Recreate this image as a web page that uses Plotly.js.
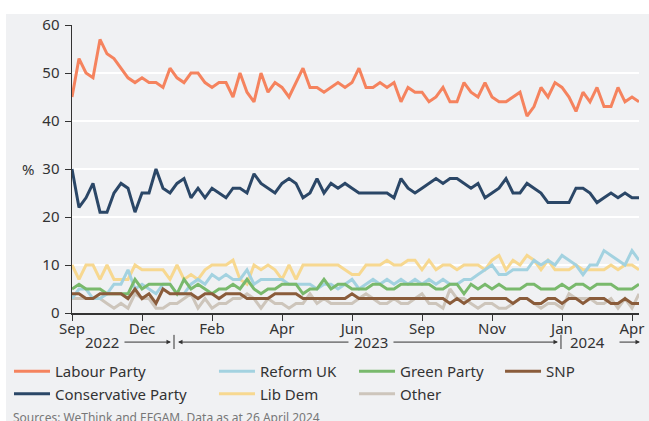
<!DOCTYPE html>
<html>
<head>
<meta charset="utf-8">
<script src="https://cdn.plot.ly/plotly-3.0.1.min.js"></script>
<style>
  html, body { margin: 0; padding: 0; background: #ffffff; }
  #chart { position: absolute; left: 6px; top: 14px; width: 643px; height: 407px; }
</style>
</head>
<body>
<div id="chart"></div>
<script>
// Voting-intention polls (%), one value per poll, Sep 2022 – Apr 2024
const labour = [45,53,50,49,57,54,53,51,49,48, 49,48,48,47,51,49,48,50,50,48,
                47,48,48,45,50,46,44,50,46,48, 47,45,48,51,47,47,46,47,48,47,
                48,51,47,47,48,47,48,44,47,46, 46,44,45,47,44,44,48,46,45,48,
                45,44,44,45,46,41,43,47,45,48, 47,45,42,46,44,47,43,43,47,44,
                45,44];
const conservative = [30,22,24,27,21,21,25,27,26,21, 25,25,30,26,25,27,28,24,26,24,
                      26,25,24,26,26,25,29,27,26,25, 27,28,27,24,25,28,25,27,26,27,
                      26,25,25,25,25,25,24,28,26,25, 26,27,28,27,28,28,27,26,27,24,
                      25,26,28,25,25,27,26,25,23,23, 23,23,26,26,25,23,24,25,24,25,
                      24,24];
const reform = [3,5,5,3,3,4,6,6,9,5, 6,5,4,6,6,4,4,6,7,6,
                8,7,8,7,7,9,6,7,7,7, 7,6,6,6,6,5,6,6,5,6,
                7,5,6,7,6,7,6,7,6,7, 6,7,6,7,6,6,7,7,8,9,
                10,8,8,9,9,9,11,10,11,10, 12,11,10,8,10,10,13,12,11,10,
                13,11];
const libDem = [10,7,10,10,7,10,7,7,7,10, 9,9,9,9,7,10,7,8,7,9,
                10,10,10,11,7,6,10,9,10,9, 7,10,7,10,10,10,10,10,10,9,
                8,8,10,10,10,11,10,10,11,11, 9,11,9,10,10,9,10,10,10,9,
                11,12,9,11,10,12,11,9,11,9, 9,9,10,9,9,9,9,10,9,10,
                10,9];
const green = [5,6,5,5,5,4,4,4,4,7, 5,6,6,6,6,4,7,5,6,5,
               4,5,5,6,5,7,5,4,5,5, 6,6,6,4,5,5,7,5,6,6,
               5,5,5,6,6,5,5,6,6,6, 6,6,5,5,6,6,4,6,5,6,
               5,6,5,5,5,6,6,5,5,5, 6,5,6,6,5,6,6,6,5,5,
               5,6];
const snp = [4,4,3,3,4,4,4,4,3,5, 3,4,2,5,4,4,4,4,3,4,
             4,3,4,4,4,3,3,3,3,4, 4,4,4,3,3,3,3,3,3,3,
             4,3,3,3,3,3,3,3,3,3, 3,3,3,3,2,3,2,3,3,3,
             3,3,3,2,3,3,2,2,3,3, 2,3,3,2,3,3,3,2,2,3,
             2,2];
const other = [3,3,3,3,3,2,1,2,1,4, 3,3,1,1,2,2,3,4,1,3,
               1,2,2,3,3,4,3,1,3,2, 2,1,2,2,4,2,3,2,2,2,
               2,3,4,3,2,2,3,2,2,3, 4,2,2,1,5,3,3,2,1,2,
               2,1,1,2,3,3,2,1,2,2, 1,4,3,3,3,2,2,3,1,3,
               1,4];

// Month labels sit on every tenth poll
const tickPolls  = [0, 10, 20, 30, 40, 50, 60, 70, 80];
const tickLabels = ['Sep', 'Dec', 'Feb', 'Apr', 'Jun', 'Sep', 'Nov', 'Jan', 'Apr'];
const years = ['2022', '2023', '2024'];

const polls = labour.map((_, i) => i);   // poll sequence number along the x axis

const FONT = '"Noto Sans", "Open Sans", sans-serif';
const INK = '#333333';
const BG = '#f0f1f3';

function series(name, values, color, legend, rank) {
  return {
    type: 'scatter', mode: 'lines', name: name,
    x: polls, y: values,
    line: { color: color, width: 3, shape: 'linear' },
    legend: legend, legendrank: rank,
    hoverinfo: 'skip'
  };
}

const traces = [
  series('Other', other, '#cdc5bb', 'legend3', 2),
  series('Lib Dem', libDem, '#f7d890', 'legend2', 2),
  series('Reform UK', reform, '#a3d2e0', 'legend2', 1),
  series('Green Party', green, '#79b96c', 'legend3', 1),
  series('SNP', snp, '#8a5c3b', 'legend4', 1),
  series('Conservative Party', conservative, '#2b4767', 'legend', 2),
  series('Labour Party', labour, '#f5835e', 'legend', 1)
];

// Four legend columns under the plot
function legendAt(x) {
  return {
    orientation: 'v', xref: 'paper', yref: 'container',
    x: x, xanchor: 'left', y: 0.1622, yanchor: 'top',
    bgcolor: 'rgba(0,0,0,0)', borderwidth: 0,
    font: { family: FONT, size: 15, color: INK },
    itemwidth: 36, tracegroupgap: 0, traceorder: 'normal'
  };
}

// Year strip under the month labels: year names with arrows and year boundaries
const yearY = -0.101;
const arrow = (x, ax) => ({
  xref: 'paper', yref: 'paper', x: x, y: yearY, ax: ax, ay: 0,
  axref: 'pixel', ayref: 'pixel', text: '', showarrow: true,
  arrowhead: 2, arrowsize: 0.9, arrowwidth: 1, arrowcolor: INK, standoff: 0
});
const yearText = (x, t) => ({
  xref: 'paper', yref: 'paper', x: x, y: yearY, xanchor: 'center', yanchor: 'middle',
  text: t, showarrow: false, font: { family: FONT, size: 15, color: INK }
});
const boundary = (x) => ({
  type: 'line', xref: 'paper', yref: 'paper', x0: x, x1: x, y0: -0.076, y1: -0.125,
  line: { color: INK, width: 1 }
});

const layout = {
  width: 643, height: 407,
  margin: { l: 66, r: 10, t: 11, b: 108 },
  paper_bgcolor: BG, plot_bgcolor: BG,
  font: { family: FONT, size: 15, color: INK },
  showlegend: true,
  xaxis: {
    range: [0, 81], tickmode: 'array', tickvals: tickPolls, ticktext: tickLabels,
    ticks: 'outside', ticklen: 6, tickwidth: 1, tickcolor: INK,
    ticklabelstandoff: -5,
    showline: true, linecolor: INK, linewidth: 1.5,
    showgrid: false, zeroline: false, automargin: false,
    tickfont: { family: FONT, size: 15, color: INK }
  },
  yaxis: {
    range: [0, 60], dtick: 10, tick0: 0,
    ticks: 'outside', ticklen: 6, tickwidth: 1, tickcolor: INK,
    ticklabelstandoff: 2,
    showline: true, linecolor: INK, linewidth: 1.5,
    gridcolor: '#ffffff', gridwidth: 1.5, zeroline: false, automargin: false,
    tickfont: { family: FONT, size: 15, color: INK }
  },
  legend: legendAt(-0.1111),
  legend2: legendAt(0.2504),
  legend3: legendAt(0.4974),
  legend4: legendAt(0.7549),
  shapes: [boundary(0.1799), boundary(0.8624)],
  annotations: [
    { xref: 'paper', yref: 'y', x: -0.078, y: 30, xanchor: 'center', yanchor: 'middle',
      text: '%', showarrow: false, font: { family: FONT, size: 15, color: INK } },
    yearText(0.0529, years[0]),
    arrow(0.1746, -48),
    arrow(0.1869, 172),
    yearText(0.5273, years[1]),
    arrow(0.8571, -166),
    yearText(0.910, years[2]),
    arrow(1.0018, -22),
    { xref: 'paper', yref: 'paper', x: -0.1076, y: -0.3266, xanchor: 'left', yanchor: 'top',
      text: 'Sources: WeThink and EFGAM. Data as at 26 April 2024', showarrow: false,
      font: { family: FONT, size: 12, color: '#777777' } }
  ]
};

Plotly.newPlot('chart', traces, layout, { staticPlot: true, displayModeBar: false });
</script>
</body>
</html>
